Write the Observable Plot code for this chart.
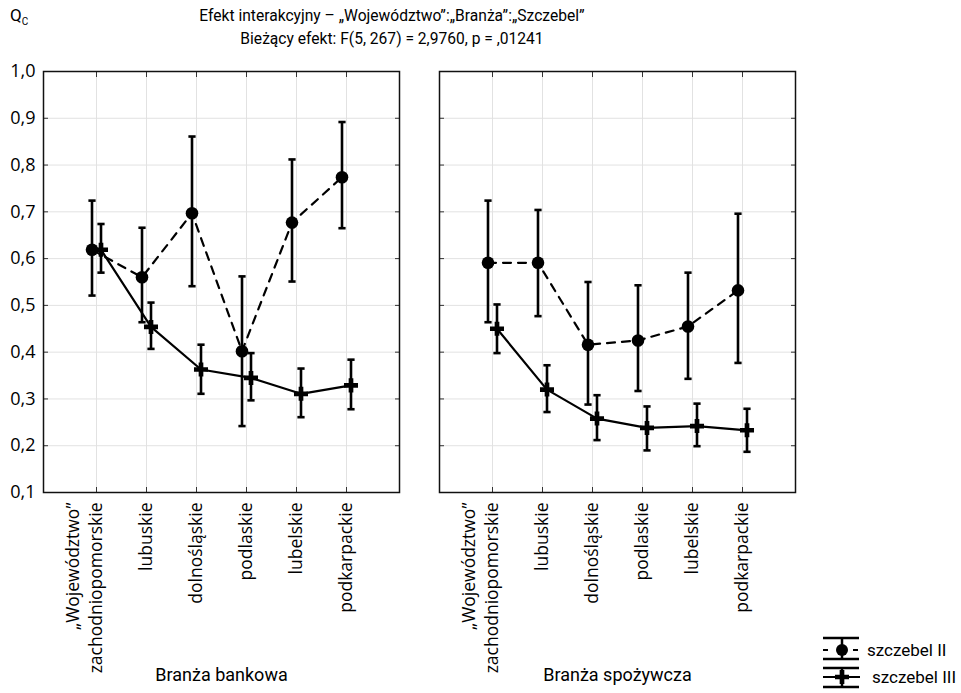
<!DOCTYPE html>
<html>
<head>
<meta charset="utf-8">
<script src="https://cdn.jsdelivr.net/npm/d3@7"></script>
<script src="https://cdn.jsdelivr.net/npm/@observablehq/plot@0.6"></script>
<style>
  html, body { margin: 0; padding: 0; background: #fff; }
  #wrap { position: relative; width: 961px; height: 693px; overflow: hidden; font-family: Roboto, "Open Sans", sans-serif; color: #000; }
  #q { position: absolute; left: 10px; top: 5px; font-size: 17px; }
  #q sub { font-size: 10px; }
  #title { position: absolute; left: 0; top: 5px; width: 784px; text-align: center; font-size: 15.6px; line-height: 23px; }
  #chart { position: absolute; left: 0; top: 50px; }
  #legend { position: absolute; left: 810px; top: 625px; }
</style>
</head>
<body>
<div id="wrap">
  <div id="q">Q<sub>C</sub></div>
  <div id="title"></div>
  <div id="chart"></div>
  <div id="legend"></div>
</div>
<script>
const titleLines = ["Efekt interakcyjny – „Województwo”:„Branża”:„Szczebel”", "Bieżący efekt: F(5, 267) = 2,9760, p = ,01241"];
const factorName = "„Województwo”";
const regions = ["zachodniopomorskie", "lubuskie", "dolnośląskie", "podlaskie", "lubelskie", "podkarpackie"];
const industries = ["Branża bankowa", "Branża spożywcza"];
const levels = ["szczebel II", "szczebel III"];
const yTicks = [0.1, 0.2, 0.3, 0.4, 0.5, 0.6, 0.7, 0.8, 0.9, 1.0];

// Branża bankowa
const bankII_mean = [0.619, 0.560, 0.697, 0.402, 0.677, 0.774];
const bankII_lo   = [0.521, 0.464, 0.541, 0.242, 0.551, 0.665];
const bankII_hi   = [0.724, 0.666, 0.861, 0.562, 0.812, 0.892];
const bankIII_mean = [0.619, 0.454, 0.363, 0.345, 0.311, 0.329];
const bankIII_lo   = [0.570, 0.407, 0.311, 0.297, 0.261, 0.278];
const bankIII_hi   = [0.674, 0.506, 0.416, 0.398, 0.365, 0.384];
// Branża spożywcza
const foodII_mean = [0.591, 0.591, 0.416, 0.425, 0.455, 0.532];
const foodII_lo   = [0.464, 0.477, 0.288, 0.317, 0.343, 0.377];
const foodII_hi   = [0.724, 0.704, 0.550, 0.543, 0.570, 0.696];
const foodIII_mean = [0.450, 0.320, 0.258, 0.238, 0.242, 0.233];
const foodIII_lo   = [0.398, 0.272, 0.212, 0.190, 0.199, 0.187];
const foodIII_hi   = [0.502, 0.372, 0.308, 0.284, 0.290, 0.279];

function rows(industry, level, mean, lo, hi) {
  return regions.map((r, i) => ({industry, level, region: r, mean: mean[i], lo: lo[i], hi: hi[i]}));
}
const dataII = [
  ...rows(industries[0], levels[0], bankII_mean, bankII_lo, bankII_hi),
  ...rows(industries[1], levels[0], foodII_mean, foodII_lo, foodII_hi)
];
const dataIII = [
  ...rows(industries[0], levels[1], bankIII_mean, bankIII_lo, bankIII_hi),
  ...rows(industries[1], levels[1], foodIII_mean, foodIII_lo, foodIII_hi)
];
const labelRows = industries.flatMap(ind => regions.map(r => ({industry: ind, region: r})));

d3.select("#title").selectAll("div").data(titleLines).join("div").text(d => d);

const fmt = d => d3.format(".1f")(d).replace(".", ",");
const offII = -4.5, offIII = 4.5;
const ebW = 2.6;
// horizontal cap symbol for error bars
const capSymbol = {draw(context) { context.moveTo(-3.6, 0); context.lineTo(3.6, 0); }};

const errMarks = (data, dx) => [
  Plot.ruleX(data, {x: "region", fx: "industry", y1: "lo", y2: "hi", dx, stroke: "#000", strokeWidth: ebW}),
  Plot.dot(data, {x: "region", fx: "industry", y: "lo", dx, symbol: capSymbol, fill: "none", stroke: "#000", strokeWidth: ebW}),
  Plot.dot(data, {x: "region", fx: "industry", y: "hi", dx, symbol: capSymbol, fill: "none", stroke: "#000", strokeWidth: ebW})
];

const chart = Plot.plot({
  width: 961,
  height: 643,
  marginTop: 21,
  marginBottom: 201,
  marginLeft: 43,
  marginRight: 166,
  style: {fontFamily: "'Open Sans', sans-serif", background: "transparent", overflow: "visible", color: "#000"},
  fx: {domain: industries, paddingInner: 40 / 396, paddingOuter: 0, axis: null, label: null},
  x: {type: "point", domain: regions, padding: 1, axis: null},
  y: {domain: [0.1, 1.0], axis: null},
  marks: [
    Plot.gridX({stroke: "#e2e2e2", strokeOpacity: 1, strokeWidth: 1}),
    Plot.gridY(yTicks, {stroke: "#e2e2e2", strokeOpacity: 1, strokeWidth: 1}),
    Plot.axisY({anchor: "left", ticks: yTicks, tickSize: -5, fill: "none", label: null, facetAnchor: null, stroke: "#333"}),
    Plot.axisY({anchor: "right", ticks: yTicks, tickSize: -5, fill: "none", label: null, facetAnchor: null, stroke: "#333"}),
    Plot.axisX({anchor: "bottom", tickSize: -5, fill: "none", label: null, facetAnchor: null, stroke: "#333"}),
    Plot.axisX({anchor: "top", tickSize: -5, fill: "none", label: null, facetAnchor: null, stroke: "#333"}),
    Plot.frame({stroke: "#111", strokeWidth: 1.5}),
    Plot.axisY({anchor: "left", ticks: yTicks, tickSize: 0, tickPadding: 8, tickFormat: fmt, fontSize: 18, label: null}),
    ...errMarks(dataII, offII),
    ...errMarks(dataIII, offIII),
    Plot.line(dataII, {x: "region", y: "mean", fx: "industry", dx: offII, stroke: "#000", strokeWidth: 2.2, strokeDasharray: "8,7"}),
    Plot.line(dataIII, {x: "region", y: "mean", fx: "industry", dx: offIII, stroke: "#000", strokeWidth: 2.2}),
    Plot.dot(dataII, {x: "region", y: "mean", fx: "industry", dx: offII, symbol: "circle", r: 6.3, fill: "#000", stroke: "none"}),
    Plot.dot(dataIII, {x: "region", y: "mean", fx: "industry", dx: offIII, symbol: "cross", r: 5.9, fill: "#000", stroke: "none"}),
    Plot.text(labelRows, {x: "region", fx: "industry", text: "region", frameAnchor: "bottom", rotate: -90, textAnchor: "end", lineAnchor: "middle", dy: 10, fontSize: 17.5, fill: "#000"}),
    Plot.text(industries, {fx: d => d, x: () => regions[0], text: () => factorName, frameAnchor: "bottom", rotate: -90, textAnchor: "end", lineAnchor: "middle", dy: 10, dx: -23, fontSize: 17.5, fill: "#000"}),
    Plot.text(industries, {fx: d => d, text: d => d, frameAnchor: "bottom", dy: 188, fontSize: 18, fontFamily: "Roboto", fill: "#000"})
  ]
});
document.getElementById("chart").appendChild(chart);

// Legend
const lg = d3.select("#legend").append("svg").attr("width", 151).attr("height", 68)
  .style("font-family", "Roboto, sans-serif").style("font-size", "17px");
const sym = [
  {label: levels[0], y: 25, top: 13, bot: 34, dash: "5,10,5,10", tx: 57},
  {label: levels[1], y: 52, top: 43, bot: 62, dash: null, tx: 62}
];
sym.forEach((s, i) => {
  const g = lg.append("g");
  g.append("line").attr("x1", 13).attr("x2", 49).attr("y1", s.top).attr("y2", s.top).attr("stroke", "#000").attr("stroke-width", 2.5);
  g.append("line").attr("x1", 13).attr("x2", 49).attr("y1", s.bot).attr("y2", s.bot).attr("stroke", "#000").attr("stroke-width", 2.5);
  g.append("line").attr("x1", 32).attr("x2", 32).attr("y1", s.top).attr("y2", s.bot).attr("stroke", "#000").attr("stroke-width", 2.5);
  g.append("line").attr("x1", 13).attr("x2", 50).attr("y1", s.y).attr("y2", s.y).attr("stroke", "#000").attr("stroke-width", 2.2)
    .attr("stroke-dasharray", s.dash);
  if (i === 0) {
    g.append("circle").attr("cx", 32).attr("cy", s.y).attr("r", 6).attr("fill", "#000");
  } else {
    g.append("path").attr("transform", `translate(32,${s.y})`).attr("d", d3.symbol(d3.symbolCross, Math.PI * 5.9 * 5.9)()).attr("fill", "#000");
  }
  g.append("text").attr("x", s.tx).attr("y", s.y).attr("dy", "0.35em").text(s.label);
});
</script>
</body>
</html>
